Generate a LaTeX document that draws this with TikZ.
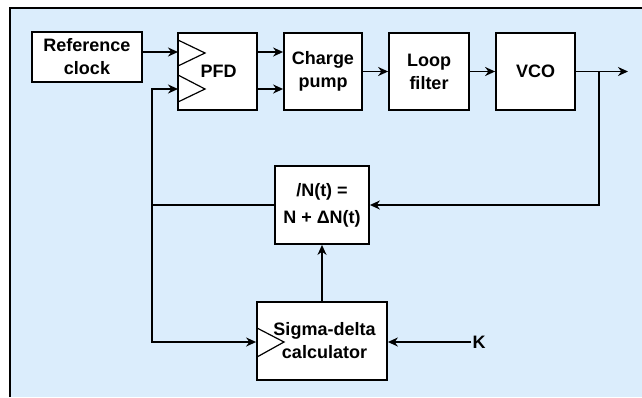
\documentclass[tikz,border=0pt]{standalone}
\usepackage{fontspec}
\setmainfont{Liberation Sans}
\usetikzlibrary{arrows.meta}
\definecolor{panel}{HTML}{DBEDFC}
\begin{document}
\begin{tikzpicture}[x=1pt,y=-1pt,
  txt/.style={font=\bfseries\fontsize{18}{23}\selectfont},
  blk/.style={draw, line width=1.8pt, fill=white, txt, align=center, inner sep=0pt},
  conn/.style={line width=1.8pt, -{Stealth[length=10pt,width=9pt]}},
  wire/.style={line width=1.8pt},
  tri/.style={line width=1.2pt}]
\useasboundingbox (0,0) rectangle (642,397);
\fill[panel] (10,8) rectangle (642,397);
\draw[line width=2pt] (10,397) -- (10,8) -- (642,8);

\node[blk, minimum width=110pt, minimum height=50pt] (ref) at (87,57) {Reference\\clock};
\node[blk, minimum width=79pt, minimum height=77pt] (pfd) at (217.5,71.5) {\hspace*{2pt}PFD};
\node[blk, minimum width=78pt, minimum height=77pt] (cp) at (323,71.5) {Charge\\pump};
\node[blk, minimum width=80pt, minimum height=77pt] (lf) at (429,71.5) {Loop\\filter};
\node[blk, minimum width=79pt, minimum height=77pt] (vco) at (535.5,71.5) {VCO};
\node[blk, minimum width=94pt, minimum height=78pt] (div) at (322,205) {/N(t) =\\[4pt]N + ΔN(t)};
\node[blk, minimum width=130pt, minimum height=78pt] (sd) at (322,341) {\hspace*{5pt}Sigma-delta\\\hspace*{5pt}calculator};
\node[txt, inner sep=1pt] (k) at (479,342) {K};

\coordinate (in1) at (178,52);
\coordinate (in2) at (178,89);
\coordinate (out) at (628,71.5);
\coordinate (tap) at (599,71.5);
\coordinate (fbtop) at (152,89);
\coordinate (fbmid) at (152,205);
\coordinate (fbbot) at (152,342);

% PFD input triangles
\draw[tri] (178,40) -- (205,53) -- (178,66);
\draw[tri] (178,75) -- (205,89) -- (178,102);
% sigma-delta clock triangle
\draw[tri] (257,328) -- (284,342) -- (257,357);

\draw[conn] (ref.east |- in1) -- (in1);
\draw[conn] (pfd.east |- in1) -- (cp.west |- in1);
\draw[conn] (pfd.east |- in2) -- (cp.west |- in2);
\draw[conn] (cp.east) -- (lf.west);
\draw[conn] (lf.east) -- (vco.west);
\draw[conn] (vco.east) -- (out);
\draw[conn] (tap) |- (div.east);
\draw[wire] (div.west) -- (fbmid);
\draw[conn] (fbmid) -- (fbtop) -- (in2);
\draw[conn] (fbmid) -- (fbbot) -- (sd.west |- fbbot);
\draw[conn] (sd.north) -- (div.south);
\draw[conn] (k.west) -- (sd.east |- k.west);
\end{tikzpicture}
\end{document}
